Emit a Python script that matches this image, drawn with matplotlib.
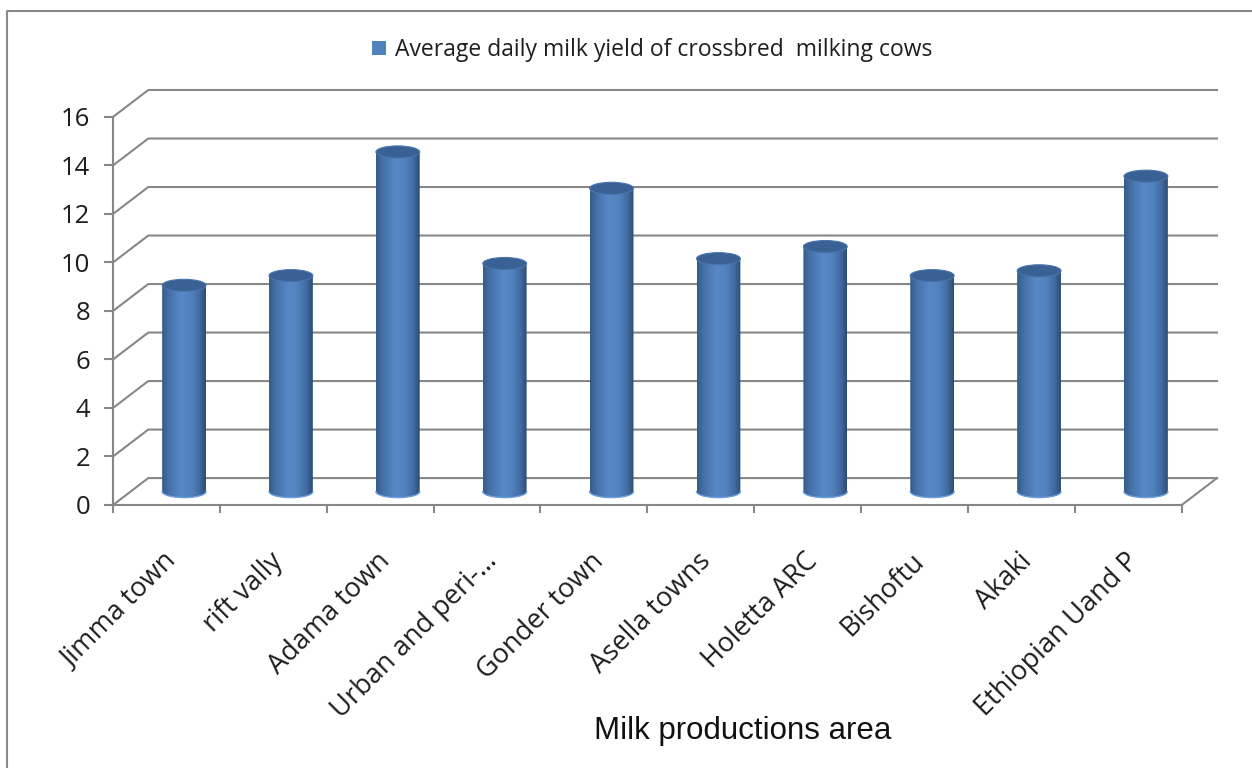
import numpy as np
import matplotlib
matplotlib.use("Agg")
import matplotlib.pyplot as plt
from matplotlib.patches import Ellipse, PathPatch, Patch
from matplotlib.path import Path
from matplotlib.colors import LinearSegmentedColormap
from matplotlib.transforms import ScaledTranslation
from matplotlib.lines import Line2D

# data
areas = ["Jimma town", "rift vally", "Adama town", "Urban and peri-\u2026",
         "Gonder town", "Asella towns", "Holetta ARC", "Bishoftu", "Akaki",
         "Ethiopian Uand P"]
milk_yield = [8.5, 8.9, 14.0, 9.4, 12.5, 9.6, 10.1, 8.9, 9.1, 13.0]
y_ticks = list(range(0, 17, 2))
series_name = "Average daily milk yield of crossbred  milking cows"
x_title = "Milk productions area"

plt.rcParams["font.family"] = ["Open Sans", "DejaVu Sans"]

GRID = "#878787"
TXT = "#1e1e1e"
DX, DY = 0.33, 1.11      # depth of the 3d box (data units)
BW, EH = 0.41, 0.5       # cylinder width, ellipse height
n = len(areas)

cyl_cmap = LinearSegmentedColormap.from_list("cyl", [
    (0.00, "#375a88"), (0.15, "#4470a8"), (0.45, "#5889c7"),
    (0.65, "#5283bf"), (0.85, "#416ca3"), (1.00, "#2d4b73")])

fig = plt.figure(figsize=(12.52, 7.68), dpi=100)
ax = fig.add_axes([113 / 1252, 263 / 768, 1104 / 1252, 415 / 768])
ax.set_xlim(0, n + DX)
ax.set_ylim(0, y_ticks[-1] + DY)
ax.set_autoscale_on(False)

# walls and floor
for v in y_ticks:
    ax.plot([0, DX, n + DX], [v, v + DY, v + DY], color=GRID, lw=1.5,
            zorder=1, clip_on=False)
ax.plot([n, n + DX], [0, DY], color=GRID, lw=1.5, zorder=1, clip_on=False)

for s in ["top", "right"]:
    ax.spines[s].set_visible(False)
ax.spines["left"].set_bounds(0, y_ticks[-1])
ax.spines["bottom"].set_bounds(0, n)
for s in ["left", "bottom"]:
    ax.spines[s].set_color(GRID)
    ax.spines[s].set_linewidth(1.5)

ax.set_yticks(y_ticks)
ax.tick_params(axis="y", length=6.5, width=1.5, color=GRID, pad=10,
               labelsize=18.5, labelcolor=TXT)
ax.set_xticks([])
ax.set_xticks(range(n + 1), minor=True)
ax.tick_params(axis="x", which="minor", length=6, width=1.5, color=GRID)
ax.patch.set_visible(False)

# cylinders
grad = np.linspace(0, 1, 256).reshape(1, -1)
t = np.linspace(np.pi, 2 * np.pi, 60)
for i, v in enumerate(milk_yield):
    cx = i + 0.5 + DX / 2
    x0, x1 = cx - BW / 2, cx + BW / 2
    yb, yt = DY / 2, v + DY / 2
    arc = np.column_stack([cx + BW / 2 * np.cos(t), yb + EH / 2 * np.sin(t)])
    verts = np.vstack([[x0, yt], arc, [x1, yt], [x0, yt]])
    clip = PathPatch(Path(verts, closed=True), transform=ax.transData,
                     fc="none", ec="none")
    ax.add_patch(clip)
    im = ax.imshow(grad, cmap=cyl_cmap, extent=[x0, x1, yb - EH / 2, yt],
                   aspect="auto", interpolation="bilinear", zorder=3)
    im.set_clip_path(clip)
    ax.plot(arc[:, 0], arc[:, 1], color="#6d9ddb", lw=1, zorder=3.5)
    ax.add_patch(Ellipse((cx, yt), BW, EH, fc="#3a6194", ec="#4a75ac",
                         lw=0.8, zorder=4))

# category labels
off = ScaledTranslation(0.11, -0.57, fig.dpi_scale_trans)
for i, name in enumerate(areas):
    ax.text(i + 0.5, 0, name, transform=ax.transData + off, rotation=45,
            rotation_mode="anchor", ha="right", va="baseline", fontsize=19.5,
            color=TXT)

fig.text(743 / 1252, 1 - 731 / 768, x_title, family="Liberation Sans",
         fontsize=22.5, ha="center", va="center", color="#111111")

fig.legend([Patch(fc="#4F81BD", ec="none")], [series_name], loc="center",
           bbox_to_anchor=(652 / 1252, 1 - 50 / 768), frameon=False,
           fontsize=16.5, handlelength=0.6, handleheight=0.6,
           handletextpad=0.4, labelcolor=TXT)

# chart border
fig.add_artist(Line2D([7 / 1252, 7 / 1252, 1], [0, 1 - 11 / 768, 1 - 11 / 768],
                      transform=fig.transFigure, color="#8a8a8a", lw=1.5))

fig.savefig("out.png", dpi=100)
